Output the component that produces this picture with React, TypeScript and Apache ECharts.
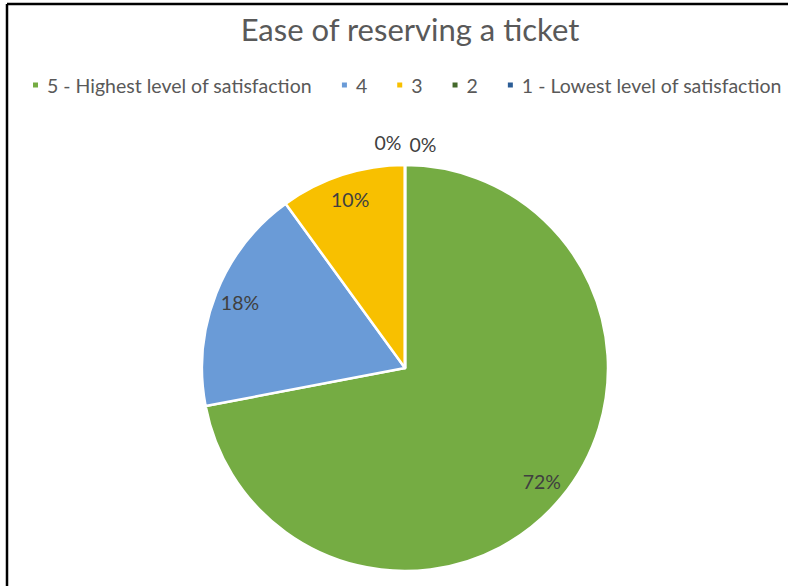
import React, { useEffect, useRef } from "react";
import * as echarts from "echarts";

const title = "Ease of reserving a ticket";
const categories = [
  "5 - Highest level of satisfaction",
  "4",
  "3",
  "2",
  "1 - Lowest level of satisfaction",
];
const shares = [72, 18, 10, 0, 0];
const colors = ["#75AC43", "#6A9BD7", "#F8C000", "#44692B", "#2C5D96"];

export default function App() {
  const ref = useRef<HTMLDivElement>(null);
  useEffect(() => {
    if (!ref.current) return;
    const chart = echarts.init(ref.current, null, { renderer: "svg" });
    const font = "Lato";
    const data = categories.map((name, i) => ({
      name,
      value: shares[i],
      itemStyle: { color: colors[i] },
    }));
    chart.setOption({
      animation: false,
      backgroundColor: "#ffffff",
      title: {
        text: title,
        left: 405,
        textAlign: "center",
        top: 8,
        textStyle: {
          fontFamily: font,
          fontSize: 31,
          fontWeight: "normal",
          color: "#595959",
        },
      },
      legend: {
        data: categories,
        left: 26,
        top: 70,
        width: 1000,
        icon: "rect",
        itemWidth: 7,
        itemHeight: 7,
        itemGap: 28,
        textStyle: { fontFamily: font, fontSize: 19.5, color: "#595959", padding: [0, 0, 0, 3] },
        selectedMode: false,
      },
      graphic: [
        { type: "line", shape: { x1: 7, y1: 4, x2: 788, y2: 4 }, style: { stroke: "#000", lineWidth: 2.5 } },
        { type: "line", shape: { x1: 7, y1: 4, x2: 7, y2: 586 }, style: { stroke: "#000", lineWidth: 2.5 } },
      ],
      series: [
        {
          type: "pie",
          center: [405, 368],
          radius: [0, 203],
          startAngle: 90,
          clockwise: true,
          silent: true,
          label: { show: false },
          labelLine: { show: false },
          itemStyle: { borderColor: "#ffffff", borderWidth: 2.5 },
          data,
        },
        {
          type: "pie",
          center: [405, 368],
          radius: [146, 203],
          startAngle: 90,
          clockwise: true,
          silent: true,
          itemStyle: { color: "transparent", borderWidth: 0 },
          label: {
            show: true,
            position: "inside",
            formatter: "{c}%",
            fontFamily: font,
            fontSize: 19.5,
            color: "#404040",
          },
          labelLine: { show: false },
          labelLayout: (p: any) =>
            p.dataIndex === 3
              ? { dx: -17, dy: -48 }
              : p.dataIndex === 4
              ? { dx: 18, dy: -46 }
              : {},
          data: categories.map((name, i) => ({ name, value: shares[i] })),
        },
      ],
    });
    return () => chart.dispose();
  }, []);
  return (
    <div
      ref={ref}
      style={{ position: "absolute", left: 0, top: 0, width: 788, height: 586 }}
    />
  );
}
